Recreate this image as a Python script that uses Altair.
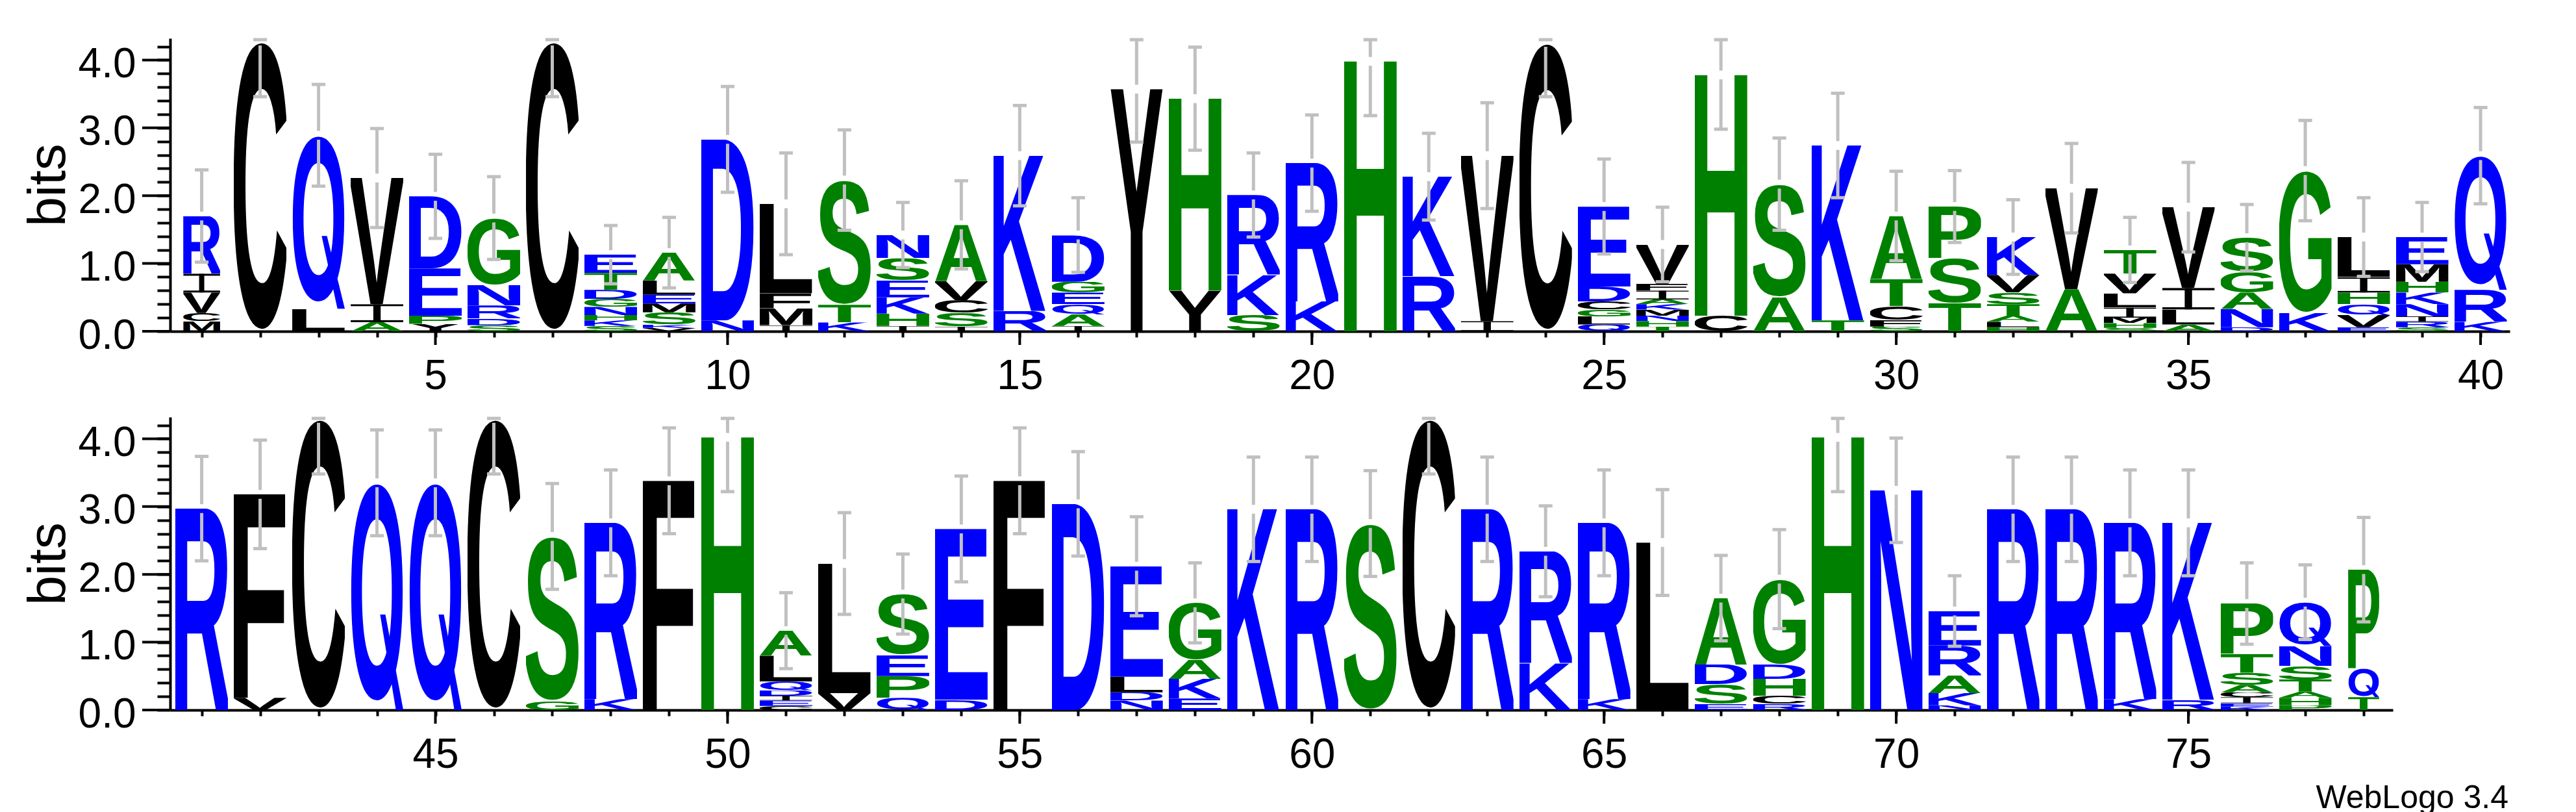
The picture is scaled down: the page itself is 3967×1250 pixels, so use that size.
import base64
import altair as alt
import pandas as pd

positions = list(range(1, 79))

# letters of each stack, bottom -> top
stack_letters = [
    "MCVIR", "C", "LQ", "AIV", "YPED", "SDRNG", "C", "SKHNGDTE", "VKSMELA", "ND",
    "IMFL", "KTS", "IHKESN", "ISCVA", "RK", "IAQEGD", "Y", "YH", "SKR", "KR",
    "H", "RK", "IV", "C", "QLGCDE", "THNMKAIFV", "CH", "AS", "TK", "SFCTA",
    "TSP", "HLATSVK", "AV", "SHMILVT", "ALIV", "DNAGS", "KG", "EVQHIL", "SRINKHME", "KRQ",
    "R", "VF", "C", "Q", "Q", "C", "GS", "KR", "F", "H",
    "CEIDQLA", "VL", "QPES", "DE", "F", "D", "NDLE", "EKAG", "K", "R",
    "S", "C", "R", "KR", "KR", "L", "ESDA", "RCHDG", "H", "N",
    "NKARE", "R", "R", "KR", "RK", "KEICASTP", "PHATSNQ", "TQP",
]

# letter heights in bits, bottom -> top
stack_heights = [
    [0.15, 0.12, 0.30, 0.28, 0.85], [4.28], [0.33, 2.56], [0.135, 0.265, 1.86],
    [0.11, 0.12, 0.70, 1.06], [0.09, 0.10, 0.19, 0.30, 0.99], [4.28],
    [0.08, 0.08, 0.08, 0.12, 0.12, 0.13, 0.25, 0.27],
    [0.05, 0.05, 0.18, 0.13, 0.13, 0.21, 0.41], [0.16, 2.67],
    [0.09, 0.25, 0.22, 1.32], [0.13, 0.26, 1.84], [0.08, 0.18, 0.24, 0.25, 0.33, 0.34],
    [0.07, 0.20, 0.19, 0.28, 0.83], [0.30, 2.29], [0.08, 0.17, 0.15, 0.17, 0.16, 0.69],
    [3.57], [0.60, 2.83], [0.24, 0.59, 1.18], [0.44, 2.04],
    [3.98], [0.81, 1.47], [0.15, 2.44], [4.26], [0.10, 0.12, 0.10, 0.12, 0.22, 1.18],
    [0.07, 0.08, 0.08, 0.09, 0.08, 0.07, 0.13, 0.10, 0.58], [0.23, 3.55], [0.50, 1.67],
    [0.16, 2.58], [0.07, 0.10, 0.20, 0.40, 0.93],
    [0.42, 0.66, 0.76], [0.06, 0.08, 0.09, 0.17, 0.17, 0.26, 0.56], [0.62, 1.49],
    [0.05, 0.07, 0.08, 0.15, 0.21, 0.29, 0.35], [0.10, 0.22, 0.32, 1.19],
    [0.06, 0.27, 0.24, 0.31, 0.50], [0.27, 2.10], [0.06, 0.18, 0.16, 0.17, 0.23, 0.59],
    [0.06, 0.08, 0.08, 0.18, 0.17, 0.16, 0.26, 0.40], [0.14, 0.47, 1.98],
    [2.97], [0.18, 3.00], [4.30], [3.35], [3.35], [4.30], [0.13, 2.43], [0.16, 2.60],
    [3.38], [4.02],
    [0.06, 0.08, 0.07, 0.08, 0.13, 0.38, 0.37], [0.25, 1.91], [0.18, 0.32, 0.31, 0.90],
    [0.15, 2.52], [3.38], [3.04], [0.14, 0.12, 0.23, 1.63], [0.17, 0.29, 0.28, 0.84],
    [2.96], [2.96],
    [2.75], [4.30], [2.96], [0.69, 1.65], [0.16, 2.60], [2.47], [0.09, 0.29, 0.29, 0.98],
    [0.09, 0.12, 0.25, 0.21, 1.26], [4.02], [3.24],
    [0.07, 0.18, 0.26, 0.44, 0.51], [2.96], [2.96], [0.16, 2.60], [0.15, 2.61],
    [0.05, 0.05, 0.09, 0.07, 0.11, 0.18, 0.28, 0.74],
    [0.07, 0.11, 0.09, 0.18, 0.20, 0.29, 0.65], [0.19, 0.42, 1.46],
]

# half-length of the error bar of each stack (bits)
error_half = [
    0.68, 0.82, 0.75, 0.73, 0.62, 0.61, 0.82, 0.43, 0.52, 0.78,
    0.75, 0.74, 0.48, 0.65, 0.74, 0.55, 0.78, 0.76, 0.62, 0.71,
    0.80, 0.64, 0.78, 0.80, 0.70, 0.55, 0.80, 0.68, 0.77, 0.66,
    0.53, 0.55, 0.66, 0.48, 0.66, 0.49, 0.74, 0.58, 0.51, 0.71,
    0.77, 0.80, 0.82, 0.78, 0.78, 0.82, 0.78, 0.78, 0.78, 0.80,
    0.56, 0.75, 0.59, 0.78, 0.78, 0.77, 0.73, 0.59, 0.77, 0.77,
    0.78, 0.82, 0.77, 0.67, 0.78, 0.78, 0.63, 0.73, 0.80, 0.77,
    0.52, 0.77, 0.77, 0.78, 0.78, 0.60, 0.55, 0.77,
]

# relative stack widths (gappy columns are drawn narrower)
stack_width = [0.63 if p == 1 else 0.53 if p == 78 else 0.9 for p in positions]

YMAX = 4.32
FONT = "Liberation Sans"
BLUE, GREEN, BLACK, GREY = "#0000ff", "#008000", "#000000", "#c0c0c0"
COLOR = {}
for c in "RKQDEN":
    COLOR[c] = BLUE
for c in "GSTAPH":
    COLOR[c] = GREEN
for c in "CVLIMFYW":
    COLOR[c] = BLACK

# glyph side bearings / advance (1/1000 em, Helvetica-Bold-like)
BEAR = {
    "A": (20, 722, 20), "C": (44, 722, 38), "D": (76, 722, 37), "E": (76, 667, 46),
    "F": (76, 611, 24), "G": (44, 778, 65), "H": (71, 722, 71), "K": (87, 722, 0),
    "L": (76, 611, 28), "M": (69, 833, 68), "N": (69, 722, 68), "P": (76, 667, 40),
    "O": (34, 778, 34), "R": (76, 722, 45), "S": (39, 667, 38), "T": (14, 611, 14),
    "V": (24, 667, 14), "W": (24, 944, 24), "Y": (12, 667, 12),
}
CAP = 0.688
OVER = 0.016
GFONT = "Liberation Sans, Arial, sans-serif"


def text_el(ch, col, box_h):
    """glyph `ch` fitted to width 100 and height box_h of the viewBox"""
    lsb, adv, rsb = BEAR[ch]
    if ch in "CGOS":
        top, bot = CAP + OVER, OVER
    else:
        top, bot = CAP, 0.0
    fs = box_h / (top + bot)
    base = top * fs
    ink = adv - lsb - rsb
    tl = 100.0 * adv / ink
    x = -100.0 * lsb / ink
    return (f'<text x="{x:.2f}" y="{base:.2f}" font-family="{GFONT}" '
            f'font-weight="700" font-size="{fs:.2f}" textLength="{tl:.2f}" '
            f'lengthAdjust="spacingAndGlyphs" fill="{col}">{ch}</text>')


def glyph_url(letter):
    col = COLOR[letter]
    if letter == "I":
        body = (f'<rect x="0" y="0" width="100" height="11" fill="{col}"/>'
                f'<rect x="0" y="89" width="100" height="11" fill="{col}"/>'
                f'<rect x="43" y="0" width="14" height="100" fill="{col}"/>')
    elif letter == "Q":
        # Helvetica-style Q: round bowl with a diagonal tail cutting the lower right
        body = text_el("O", col, 96.5) + (
            f'<polygon points="56,58 66,58 100,100 86,100" fill="{col}"/>')
    else:
        body = text_el(letter, col, 100.0)
    svg = ('<svg xmlns="http://www.w3.org/2000/svg" width="100" height="100" '
           f'viewBox="0 0 100 100" preserveAspectRatio="none">{body}</svg>')
    return "data:image/svg+xml;base64," + base64.b64encode(svg.encode()).decode()


URLS = {c: glyph_url(c) for c in COLOR}

rows = []
err_rows = []
for p, lets, hs, e, w in zip(positions, stack_letters, stack_heights, error_half, stack_width):
    base = 0.0
    for L, h in zip(lets, hs):
        rows.append(dict(pos=p, letter=L, y0=base, y1=base + h,
                         x0=p - w / 2, x1=p + w / 2, url=URLS[L]))
        base += h
    gap = 0.065
    hi = min(base + e, YMAX - 0.02)
    err_rows.append(dict(pos=p, lo=base - e, tm=base - gap, tp=base + gap, hi=hi,
                         c0=p - 0.117, c1=p + 0.117))

letters_df = pd.DataFrame(rows)
err_df = pd.DataFrame(err_rows)

PLOT_H = 451
PX_POS = 89.98


def panel(p_lo, p_hi, credit=False):
    x_lo, x_hi = p_lo - 0.54, p_hi + 0.5
    width = round((x_hi - x_lo) * PX_POS)
    xs = alt.Scale(domain=[x_lo, x_hi], nice=False, zero=False)
    ys = alt.Scale(domain=[0, YMAX], nice=False, zero=False)
    L = letters_df[(letters_df.pos >= p_lo) & (letters_df.pos <= p_hi)]
    E = err_df[(err_df.pos >= p_lo) & (err_df.pos <= p_hi)]
    xaxis = alt.Axis(values=list(range(p_lo, p_hi + 1)), tickSize=9, title=None,
                     labelExpr="datum.value % 5 === 0 ? datum.label : ''",
                     labelPadding=28, labelOverlap=False, labelFlush=False)
    yaxis = alt.Axis(values=[round(i * 0.2, 1) for i in range(22)], tickSize=20,
                     title="bits", titlePadding=4,
                     labelExpr="abs(datum.value - round(datum.value)) < 0.01 ? format(datum.value, '.1f') : ''",
                     labelPadding=33, labelOffset=7, labelOverlap=False, labelFlush=False)

    def X(f):
        return alt.X(f, scale=xs, axis=xaxis)

    def Y(f):
        return alt.Y(f, scale=ys, axis=yaxis)

    glyphs = alt.Chart(L).mark_image(aspect=False).encode(
        x=X("x0:Q"), x2="x1:Q", y=Y("y0:Q"), y2="y1:Q", url="url:N")
    bar_lo = alt.Chart(E).mark_rule(color=GREY, strokeWidth=5).encode(
        x=X("pos:Q"), y=Y("lo:Q"), y2="tm:Q")
    bar_hi = alt.Chart(E[E.hi > E.tp]).mark_rule(color=GREY, strokeWidth=5).encode(
        x=X("pos:Q"), y=Y("tp:Q"), y2="hi:Q")
    cap_lo = alt.Chart(E).mark_rule(color=GREY, strokeWidth=5).encode(
        x=X("c0:Q"), x2="c1:Q", y=Y("lo:Q"))
    cap_hi = alt.Chart(E).mark_rule(color=GREY, strokeWidth=5).encode(
        x=X("c0:Q"), x2="c1:Q", y=Y("hi:Q"))
    major_x = [v for v in range(p_lo, p_hi + 1) if v % 5 == 0]
    xt = alt.Chart(pd.DataFrame({"v": major_x})).mark_rule(color=BLACK, strokeWidth=4).encode(
        x=X("v:Q"), y=alt.value(PLOT_H), y2=alt.value(PLOT_H + 21))
    yt = alt.Chart(pd.DataFrame({"v": [0, 1, 2, 3, 4]})).mark_rule(color=BLACK, strokeWidth=4).encode(
        y=Y("v:Q"), x=alt.value(0), x2=alt.value(-43))
    layers = [glyphs, bar_lo, bar_hi, cap_lo, cap_hi, xt, yt]
    if credit:
        cr = alt.Chart(pd.DataFrame({"t": ["WebLogo 3.4"]})).mark_text(
            align="right", baseline="alphabetic", fontSize=50, font=FONT, color=BLACK
        ).encode(x=alt.value(width + 178), y=alt.value(602), text="t:N")
        layers.append(cr)
    return alt.layer(*layers).properties(width=width, height=PLOT_H)


top = panel(1, 40)
bottom = panel(41, 78, credit=True)

chart = alt.vconcat(top, bottom, spacing=132, bounds="flush",
                    padding={"left": 25, "top": 38, "right": 10, "bottom": 5}).configure_view(
    stroke=None
).configure_axis(
    grid=False, domainColor=BLACK, domainWidth=4, tickColor=BLACK, tickWidth=4,
    labelFont=FONT, labelFontSize=64, labelColor=BLACK,
    titleFont=FONT, titleFontSize=82, titleFontWeight="normal", titleColor=BLACK,
)

chart.save("out.html", embed_options={"renderer": "svg", "actions": False})
